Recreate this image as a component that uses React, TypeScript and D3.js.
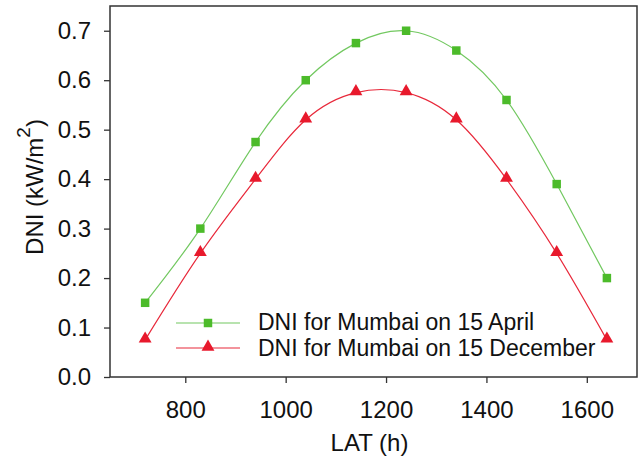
import React, { useEffect, useRef } from "react";
import * as d3 from "d3";

const lat = [720, 830, 940, 1040, 1140, 1240, 1340, 1440, 1540, 1640];
const dniApril = [0.15, 0.3, 0.475, 0.6, 0.675, 0.7, 0.66, 0.56, 0.39, 0.2];
const dniDecember = [0.075, 0.25, 0.4, 0.52, 0.575, 0.575, 0.52, 0.4, 0.25, 0.075];
const xTicks = [800, 1000, 1200, 1400, 1600];
const yTicks = [0, 0.1, 0.2, 0.3, 0.4, 0.5, 0.6, 0.7];
const legendLabels = ["DNI for Mumbai on 15 April", "DNI for Mumbai on 15 December"];

const App: React.FC = () => {
  const chartRef: any = useRef();

  useEffect(() => {
    drawChart();
  }, []);

  const drawChart = () => {
    const width = 640;
    const height = 458;
    const m = { left: 110, top: 6, right: 637, bottom: 377 };
    const font = "Liberation Sans, Arial, sans-serif";

    d3.select(chartRef.current).selectAll("*").remove();
    const svg = d3
      .select(chartRef.current)
      .append("svg")
      .attr("width", width)
      .attr("height", height)
      .style("position", "absolute")
      .style("left", 0)
      .style("top", 0)
      .style("background", "#fff");

    const xScale = d3.scaleLinear().domain([650, 1700]).range([m.left, m.right]);
    const yScale = d3.scaleLinear().domain([0, 0.75]).range([m.bottom, m.top]);

    // frame
    svg
      .append("rect")
      .attr("x", m.left)
      .attr("y", m.top)
      .attr("width", m.right - m.left)
      .attr("height", m.bottom - m.top)
      .attr("fill", "none")
      .attr("stroke", "#333")
      .attr("stroke-width", 1.5);

    const xAxis = svg
      .append("g")
      .attr("transform", `translate(0,${m.bottom})`)
      .call(d3.axisBottom(xScale).tickValues(xTicks).tickSize(6).tickPadding(18).tickFormat(d3.format("d")));
    xAxis.select(".domain").remove();
    xAxis.selectAll("line").attr("stroke", "#333").attr("stroke-width", 1.3);
    xAxis.selectAll("text").attr("font-family", font).attr("font-size", 24).attr("fill", "#111");

    const yAxis = svg
      .append("g")
      .attr("transform", `translate(${m.left},0)`)
      .call(d3.axisLeft(yScale).tickValues(yTicks).tickSize(6).tickPadding(13).tickFormat(d3.format(".1f")));
    yAxis.select(".domain").remove();
    yAxis.selectAll("line").attr("stroke", "#333").attr("stroke-width", 1.3);
    yAxis.selectAll("text").attr("font-family", font).attr("font-size", 24).attr("fill", "#111");

    // axis titles
    svg
      .append("text")
      .attr("x", (m.left + m.right) / 2 - 4)
      .attr("y", 451)
      .attr("text-anchor", "middle")
      .attr("font-family", font)
      .attr("font-size", 24)
      .attr("fill", "#111")
      .text("LAT (h)");

    const yTitle = svg
      .append("text")
      .attr("transform", `translate(43,187) rotate(-90)`)
      .attr("text-anchor", "middle")
      .attr("font-family", font)
      .attr("font-size", 24)
      .attr("fill", "#111");
    yTitle.append("tspan").text("DNI (kW/m");
    yTitle.append("tspan").attr("dy", -13).attr("font-size", 19).text("2");
    yTitle.append("tspan").attr("dy", 13).text(")");

    const series = [
      { values: dniApril, line: "#72c860", fill: "#4cbb2a", shape: d3.symbolSquare },
      { values: dniDecember, line: "#e8283a", fill: "#e8192c", shape: d3.symbolTriangle },
    ];

    const line: any = d3
      .line()
      .x((d: any) => xScale(d[0]))
      .y((d: any) => yScale(d[1]))
      .curve(d3.curveNatural);

    series.forEach((s, i) => {
      const pts = lat.map((x, j) => [x, s.values[j]]);
      svg
        .append("path")
        .datum(pts)
        .attr("fill", "none")
        .attr("stroke", s.line)
        .attr("stroke-width", 1.2)
        .attr("d", line);

      const sym = d3.symbol().type(s.shape).size(i === 0 ? 72 : 72);
      svg
        .append("g")
        .selectAll("path")
        .data(pts)
        .enter()
        .append("path")
        .attr("d", sym as any)
        .attr("transform", (d: any) => `translate(${xScale(d[0])},${yScale(d[1]) + (i === 1 ? -1 : 0)})`)
        .attr("fill", s.fill);

      // legend
      const ly = 323 + i * 25;
      svg
        .append("line")
        .attr("x1", 176)
        .attr("x2", 240)
        .attr("y1", ly)
        .attr("y2", ly)
        .attr("stroke", s.line)
        .attr("stroke-width", 1.2);
      svg
        .append("path")
        .attr("d", sym as any)
        .attr("transform", `translate(208,${ly + (i === 1 ? -1 : 0)})`)
        .attr("fill", s.fill);
      svg
        .append("text")
        .attr("x", 258)
        .attr("y", 330 + i * 26)
        .attr("font-family", font)
        .attr("font-size", 23)
        .attr("fill", "#111")
        .text(legendLabels[i]);
    });
  };

  return <div ref={chartRef}></div>;
};

export default App;
